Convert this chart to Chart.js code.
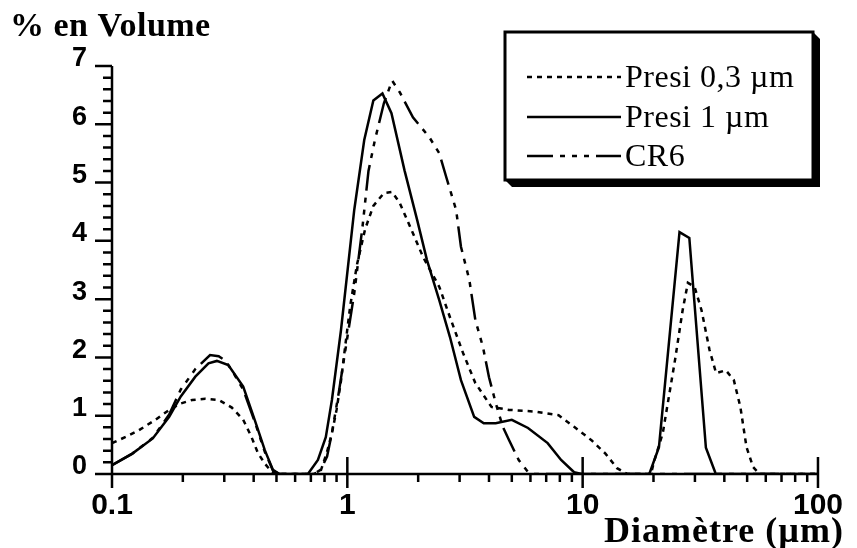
<!DOCTYPE html>
<html lang="fr">
<head>
<meta charset="UTF-8">
<title>% en Volume</title>
<script src="https://cdn.jsdelivr.net/npm/chart.js"></script>
<style>
  html, body { margin: 0; padding: 0; background: #fff; }
  canvas { display: block; }
</style>
</head>
<body>
<canvas id="chart" width="857" height="548"></canvas>
<script>
// diameters in µm, volume in %
const seriesNames = ["Presi 0,3 µm", "Presi 1 µm", "CR6"];

const presi03X = [0.1, 0.115, 0.13, 0.153, 0.175, 0.196, 0.219, 0.249, 0.284, 0.323, 0.361, 0.391, 0.417, 0.446, 0.476, 0.5,
  0.72, 0.77, 0.82, 0.86, 0.9, 0.94, 0.98, 1.03, 1.1, 1.19, 1.29, 1.43, 1.55, 1.67, 1.85, 2.1, 2.46, 2.73, 3.1, 3.5, 4.1,
  4.87, 6.3, 7.9, 9.2, 10.9, 12.5, 14, 15.5, 19.5, 20.2, 21.9, 24.7, 26.6, 28, 29.9, 32, 34.6, 36.9, 40.6, 43.9, 46.8,
  49.7, 53, 56.5, 100];
const presi03Y = [0.53, 0.64, 0.75, 0.93, 1.1, 1.21, 1.27, 1.29, 1.27, 1.14, 0.93, 0.64, 0.36, 0.18, 0.04, 0,
  0, 0.05, 0.38, 0.7, 1.1, 1.6, 2.2, 2.9, 3.6, 4.2, 4.6, 4.82, 4.84, 4.65, 4.24, 3.72, 3.21, 2.69, 2.08, 1.56, 1.15,
  1.1, 1.07, 1.01, 0.81, 0.58, 0.35, 0.1, 0, 0, 0.24, 0.7, 1.96, 2.81, 3.28, 3.21, 2.81, 2.13, 1.73, 1.78, 1.61, 1.15,
  0.46, 0.12, 0, 0];

const presi1X = [0.1, 0.122, 0.149, 0.175, 0.196, 0.226, 0.257, 0.279, 0.312, 0.361, 0.404, 0.446, 0.483, 0.515,
  0.68, 0.75, 0.81, 0.86, 0.94, 1.07, 1.18, 1.29, 1.41, 1.54, 1.75, 1.98, 2.18, 2.46, 2.73, 3.04, 3.46, 3.8, 4.27,
  5.0, 5.86, 7.1, 8.1, 9.2, 9.9, 19.2, 21.1, 25.8, 28.4, 33.4, 36.8, 100];
const presi1Y = [0.15, 0.35, 0.61, 0.98, 1.33, 1.67, 1.9, 1.94, 1.87, 1.5, 0.93, 0.41, 0.07, 0,
  0, 0.24, 0.63, 1.27, 2.47, 4.53, 5.73, 6.41, 6.53, 6.19, 5.21, 4.36, 3.67, 2.98, 2.35, 1.61, 0.98, 0.87, 0.87,
  0.93, 0.79, 0.53, 0.24, 0.03, 0, 0, 0.46, 4.15, 4.05, 0.45, 0, 0];

const cr6X = [0.1, 0.122, 0.149, 0.175, 0.196, 0.226, 0.261, 0.284, 0.302, 0.323, 0.361, 0.404, 0.446, 0.483, 0.515,
  0.72, 0.77, 0.82, 0.86, 0.92, 0.97, 1.07, 1.16, 1.23, 1.31, 1.43, 1.55, 1.67, 1.9, 2.23, 2.46, 2.63, 2.9, 3.04, 3.3,
  3.5, 3.77, 4.0, 4.27, 4.58, 4.87, 5.35, 5.87, 6.2, 100];
const cr6Y = [0.15, 0.35, 0.62, 1.02, 1.45, 1.8, 2.04, 2.02, 1.95, 1.78, 1.45, 0.9, 0.38, 0.06, 0,
  0, 0.07, 0.3, 0.7, 1.4, 2.0, 3.1, 4.24, 5.2, 5.73, 6.36, 6.75, 6.55, 6.12, 5.78, 5.5, 5.1, 4.53, 3.9, 3.33,
  2.64, 2.18, 1.66, 1.22, 0.81, 0.58, 0.24, 0.03, 0, 0];

const xTicks = [0.1, 1, 10, 100];
const yTicks = [0, 1, 2, 3, 4, 5, 6, 7];

const dashes = [[5, 5], [], [26, 7, 5, 7, 5, 7, 5, 7]];

function toPoints(xs, ys) {
  return xs.map((x, i) => ({ x: x, y: ys[i] }));
}

const sansFamily = "'Liberation Sans', Arial, sans-serif";
const serifFamily = "'Liberation Serif', 'Times New Roman', serif";

// axes lines, ticks, legend box and titles
const decorPlugin = {
  id: "decor",
  beforeDatasetsDraw(chart) {
    const ctx = chart.ctx;
    const xs = chart.scales.x, ys = chart.scales.y;
    const x0 = xs.getPixelForValue(0.1), y0 = ys.getPixelForValue(0);
    ctx.save();
    ctx.strokeStyle = "#000";
    ctx.lineWidth = 2.5;
    ctx.beginPath();
    ctx.moveTo(x0, ys.getPixelForValue(7));
    ctx.lineTo(x0, y0 + 14);
    ctx.moveTo(x0, y0);
    ctx.lineTo(xs.getPixelForValue(100), y0);
    // y ticks every 0.2
    for (let i = 0; i <= 35; i++) {
      const py = ys.getPixelForValue(i * 0.2);
      ctx.moveTo(x0 - (i % 5 === 0 ? 17 : 9), py);
      ctx.lineTo(x0, py);
    }
    // x ticks, log decades
    for (let d = 0.1; d < 100; d *= 10) {
      for (let k = 1; k <= 10; k++) {
        const v = d * k;
        const px = xs.getPixelForValue(v);
        if (k === 10) {
          if (v > 0.5) { ctx.moveTo(px, y0 - 17); ctx.lineTo(px, y0 + 14); }
        } else if (k > 1) {
          ctx.moveTo(px, y0);
          ctx.lineTo(px, y0 + 8);
        }
      }
    }
    ctx.stroke();
    ctx.restore();
  },
  afterDraw(chart) {
    const ctx = chart.ctx;
    ctx.save();
    // axis titles
    ctx.fillStyle = "#000";
    ctx.textBaseline = "alphabetic";
    ctx.font = "bold 34px " + serifFamily;
    ctx.letterSpacing = "0.5px";
    ctx.textAlign = "left";
    ctx.fillText("% en Volume", 10, 36);
    ctx.font = "bold 36px " + serifFamily;
    ctx.letterSpacing = "1px";
    ctx.textAlign = "right";
    ctx.fillText("Diamètre (µm)", 844, 542);

    // legend box with 3D shadow
    const L = 505, T = 32, W = 308, H = 148, S = 7;
    ctx.fillStyle = "#000";
    ctx.beginPath();
    ctx.moveTo(L, T + H);
    ctx.lineTo(L + S, T + H + S);
    ctx.lineTo(L + W + S, T + H + S);
    ctx.lineTo(L + W + S, T + S);
    ctx.lineTo(L + W, T);
    ctx.closePath();
    ctx.fill();
    ctx.fillStyle = "#fff";
    ctx.fillRect(L, T, W, H);
    ctx.strokeStyle = "#000";
    ctx.lineWidth = 3;
    ctx.strokeRect(L, T, W, H);

    const rows = [77, 117, 156];
    ctx.font = "32px " + serifFamily;
    ctx.letterSpacing = "0.5px";
    ctx.textAlign = "left";
    chart.data.datasets.forEach((ds, i) => {
      ctx.beginPath();
      ctx.lineWidth = 2.5;
      ctx.setLineDash(ds.borderDash || []);
      ctx.moveTo(527, rows[i]);
      ctx.lineTo(621, rows[i]);
      ctx.stroke();
      ctx.setLineDash([]);
      ctx.fillStyle = "#000";
      ctx.fillText(ds.label, 625, rows[i] + 10);
    });
    ctx.restore();
  }
};

new Chart(document.getElementById("chart"), {
  type: "scatter",
  data: {
    datasets: [
      { label: seriesNames[0], data: toPoints(presi03X, presi03Y), borderDash: dashes[0] },
      { label: seriesNames[1], data: toPoints(presi1X, presi1Y), borderDash: dashes[1] },
      { label: seriesNames[2], data: toPoints(cr6X, cr6Y), borderDash: dashes[2] }
    ].map(ds => Object.assign(ds, {
      showLine: true,
      borderColor: "#000",
      backgroundColor: "#000",
      borderWidth: 2.5,
      pointRadius: 0,
      tension: 0,
      fill: false
    }))
  },
  options: {
    responsive: false,
    animation: false,
    devicePixelRatio: 1,
    layout: { padding: { top: 66, right: 32, left: 0, bottom: 0 } },
    plugins: { legend: { display: false }, tooltip: { enabled: false }, title: { display: false } },
    scales: {
      x: {
        type: "logarithmic",
        min: 0.1,
        max: 100,
        grid: { display: false, drawTicks: false },
        border: { display: false },
        afterBuildTicks: s => { s.ticks = xTicks.map(v => ({ value: v })); },
        afterFit: s => { s.height = 74; },
        ticks: {
          color: "#000",
          font: { family: sansFamily, size: 30, weight: "bold" },
          padding: 14,
          autoSkip: false,
          maxRotation: 0,
          callback: v => String(v)
        }
      },
      y: {
        min: 0,
        max: 7,
        grid: { display: false, drawTicks: false },
        border: { display: false },
        afterBuildTicks: s => { s.ticks = yTicks.map(v => ({ value: v })); },
        afterFit: s => { s.width = 112; },
        ticks: {
          color: "#000",
          font: { family: sansFamily, size: 27, weight: "bold" },
          padding: 25,
          labelOffset: -7
        }
      }
    }
  },
  plugins: [decorPlugin]
});
</script>
</body>
</html>
